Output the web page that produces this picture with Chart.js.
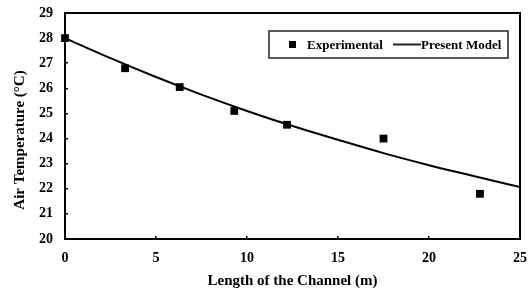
<!DOCTYPE html>
<html>
<head>
<meta charset="utf-8">
<script src="https://cdn.jsdelivr.net/npm/chart.js@4"></script>
<style>
  html, body { margin: 0; padding: 0; background: #fff; }
  #wrap { width: 528px; height: 290px; }
</style>
</head>
<body>
<div id="wrap"><canvas id="grafico" width="528" height="290"></canvas></div>
<script>
// dados
const expX = [0, 3.3, 6.3, 9.3, 12.2, 17.5, 22.8];
const expY = [28.0, 26.8, 26.05, 25.1, 24.55, 24.0, 21.8];

const modelX = [0, 2.5, 5, 7.5, 10, 12.5, 15, 17.5, 20, 22.5, 25];
const modelY = [28.0, 27.2, 26.45, 25.75, 25.1, 24.5, 23.95, 23.42, 22.94, 22.5, 22.07];

const xTicks = [0, 5, 10, 15, 20, 25];
const yTicks = [20, 21, 22, 23, 24, 25, 26, 27, 28, 29];

const tituloY = 'Air Temperature (°C)';

const fonte = '"Liberation Serif", "Times New Roman", serif';

// moldura, título do eixo y e legenda dentro da área
const molduraPlugin = {
  id: 'moldura',
  afterDraw(chart) {
    const ctx = chart.ctx;
    const a = chart.chartArea;
    ctx.save();
    ctx.strokeStyle = '#000';
    ctx.lineWidth = 2;
    ctx.strokeRect(a.left, a.top, a.right - a.left, a.bottom - a.top);

    // título do eixo y (um pouco abaixo do centro, como no original)
    ctx.save();
    ctx.translate(20, 140);
    ctx.rotate(-Math.PI / 2);
    ctx.font = 'bold 15px ' + fonte;
    ctx.fillStyle = '#000';
    ctx.textAlign = 'center';
    ctx.textBaseline = 'middle';
    ctx.fillText(tituloY, 0, 0);
    ctx.restore();

    // legenda
    const bx = 269, by = 31, bw = 239, bh = 27;
    ctx.lineWidth = 1.5;
    ctx.strokeStyle = '#222';
    ctx.fillStyle = '#fff';
    ctx.fillRect(bx, by, bw, bh);
    ctx.strokeRect(bx, by, bw, bh);
    const cy = by + bh / 2;
    ctx.fillStyle = '#000';
    ctx.fillRect(289, cy - 3.5, 7, 7);
    ctx.font = 'bold 13px ' + fonte;
    ctx.textBaseline = 'middle';
    ctx.fillText(chart.data.datasets[0].label, 307, cy + 1);
    ctx.beginPath();
    ctx.lineWidth = 2;
    ctx.moveTo(393, cy);
    ctx.lineTo(421, cy);
    ctx.stroke();
    ctx.fillText(chart.data.datasets[1].label, 421, cy + 1);
    ctx.restore();
  }
};

const ctx = document.getElementById('grafico').getContext('2d');
new Chart(ctx, {
  type: 'scatter',
  data: {
    datasets: [
      {
        label: 'Experimental',
        data: expX.map((x, i) => ({ x: x, y: expY[i] })),
        pointStyle: 'rect',
        pointRadius: 5.5,
        backgroundColor: '#000',
        borderColor: '#000',
        borderWidth: 0,
        showLine: false,
        clip: false,
        order: 1
      },
      {
        label: 'Present Model',
        data: modelX.map((x, i) => ({ x: x, y: modelY[i] })),
        showLine: true,
        pointRadius: 0,
        borderColor: '#000',
        borderWidth: 2,
        cubicInterpolationMode: 'monotone',
        order: 2
      }
    ]
  },
  options: {
    responsive: false,
    animation: false,
    layout: { padding: { left: 0, right: 8, top: 13, bottom: 0 } },
    plugins: {
      legend: { display: false },
      tooltip: { enabled: false }
    },
    scales: {
      x: {
        type: 'linear',
        min: 0, max: 25,
        afterBuildTicks: s => { s.ticks = xTicks.map(v => ({ value: v })); },
        afterFit: s => { s.height = 51; s.paddingLeft = 0; s.paddingRight = 0; },
        grid: { drawOnChartArea: false, tickLength: -3, color: '#000', lineWidth: 1.5 },
        border: { color: '#000', width: 2 },
        ticks: { color: '#000', padding: 14, font: { family: fonte, weight: 'bold', size: 14 } },
        title: {
          display: true,
          text: 'Length of the Channel (m)',
          color: '#000',
          padding: { top: 4, bottom: 0 },
          font: { family: fonte, weight: 'bold', size: 15 }
        }
      },
      y: {
        min: 20, max: 29,
        afterBuildTicks: s => { s.ticks = yTicks.map(v => ({ value: v })); },
        afterFit: s => { s.width = 65; s.paddingTop = 0; s.paddingBottom = 0; },
        grid: { drawOnChartArea: false, tickLength: -3, color: '#000', lineWidth: 1.5 },
        border: { color: '#000', width: 2 },
        ticks: { color: '#000', padding: 15, font: { family: fonte, weight: 'bold', size: 14 } },
        title: { display: false }
      }
    }
  },
  plugins: [molduraPlugin]
});
</script>
</body>
</html>
